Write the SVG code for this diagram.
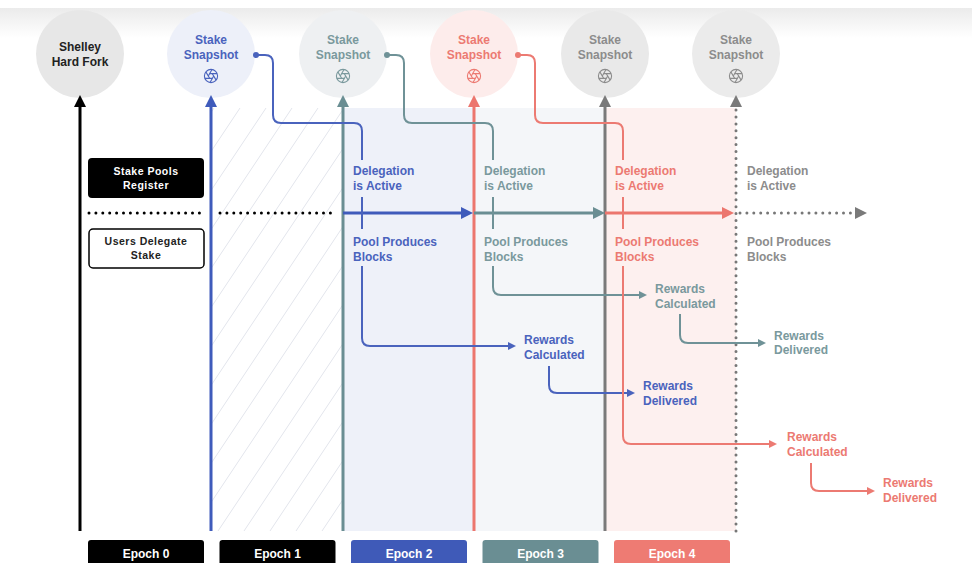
<svg xmlns="http://www.w3.org/2000/svg" width="972" height="563" viewBox="0 0 972 563">
<style>
  text { font-family: "Liberation Sans", Arial, sans-serif; font-weight: bold; font-size: 12px; }
  .c { text-anchor: middle; }
  .small { font-size: 10.5px; letter-spacing: 0.5px; }
  .blue { fill: #4a63bd; }
  .teal { fill: #7a999d; }
  .red { fill: #ec7a72; }
  .gray { fill: #8c8c8c; }
  .dark { fill: #222222; }
  .white { fill: #ffffff; }
  .conn { fill: none; stroke-width: 2; }
  .sb { stroke: #4a63bd; }
  .st { stroke: #6f9297; }
  .sr { stroke: #ec7a72; }
  .main { fill: none; stroke-width: 3; }
  .dots { fill: none; stroke-width: 3; stroke-linecap: round; stroke-dasharray: 0 6.9; }
</style>
<defs>
  <linearGradient id="topshade" x1="0" y1="0" x2="0" y2="1">
    <stop offset="0" stop-color="#ebebeb"/>
    <stop offset="1" stop-color="#ffffff"/>
  </linearGradient>
  <pattern id="hatch" patternUnits="userSpaceOnUse" width="26" height="39">
    <path d="M0,39 L26,0 M-4,6 L4,-6 M22,45 L30,33" stroke="#e2e5ec" stroke-width="1" fill="none"/>
  </pattern>
  <marker id="aK" markerUnits="userSpaceOnUse" viewBox="0 0 12 12" markerWidth="12" markerHeight="12" refX="4" refY="6" orient="auto"><path d="M0,0 L12,6 L0,12 z" fill="#000"/></marker>
  <marker id="aB" markerUnits="userSpaceOnUse" viewBox="0 0 12 12" markerWidth="12" markerHeight="12" refX="4" refY="6" orient="auto"><path d="M0,0 L12,6 L0,12 z" fill="#3f5bbb"/></marker>
  <marker id="aT" markerUnits="userSpaceOnUse" viewBox="0 0 12 12" markerWidth="12" markerHeight="12" refX="4" refY="6" orient="auto"><path d="M0,0 L12,6 L0,12 z" fill="#6a8e93"/></marker>
  <marker id="aR" markerUnits="userSpaceOnUse" viewBox="0 0 12 12" markerWidth="12" markerHeight="12" refX="4" refY="6" orient="auto"><path d="M0,0 L12,6 L0,12 z" fill="#ec766e"/></marker>
  <marker id="aG" markerUnits="userSpaceOnUse" viewBox="0 0 12 12" markerWidth="12" markerHeight="12" refX="4" refY="6" orient="auto"><path d="M0,0 L12,6 L0,12 z" fill="#7a7a7a"/></marker>
  <marker id="sB" markerUnits="userSpaceOnUse" viewBox="0 0 8 8" markerWidth="8" markerHeight="8" refX="2" refY="4" orient="auto"><path d="M0,0 L8,4 L0,8 z" fill="#4a63bd"/></marker>
  <marker id="sT" markerUnits="userSpaceOnUse" viewBox="0 0 8 8" markerWidth="8" markerHeight="8" refX="2" refY="4" orient="auto"><path d="M0,0 L8,4 L0,8 z" fill="#6f9297"/></marker>
  <marker id="sR" markerUnits="userSpaceOnUse" viewBox="0 0 8 8" markerWidth="8" markerHeight="8" refX="2" refY="4" orient="auto"><path d="M0,0 L8,4 L0,8 z" fill="#ec7a72"/></marker>
  <g id="shutter" fill="none" stroke="currentColor" stroke-width="1.1">
    <circle r="6.6"/>
    <path d="M2.7,0 L-1,6.5"/>
    <path d="M2.7,0 L-1,6.5" transform="rotate(60)"/>
    <path d="M2.7,0 L-1,6.5" transform="rotate(120)"/>
    <path d="M2.7,0 L-1,6.5" transform="rotate(180)"/>
    <path d="M2.7,0 L-1,6.5" transform="rotate(240)"/>
    <path d="M2.7,0 L-1,6.5" transform="rotate(300)"/>
  </g>
</defs>

<rect width="972" height="563" fill="#ffffff"/>
<rect x="0" y="8" width="972" height="30" fill="url(#topshade)"/>

<g id="panels">
  <rect x="211" y="108" width="132" height="423" fill="url(#hatch)"/>
  <rect x="343" y="108" width="131" height="423" fill="#eef1f9"/>
  <rect x="474" y="108" width="131" height="423" fill="#f4f6f9"/>
  <rect x="605" y="108" width="131" height="423" fill="#fdf0ef"/>
</g>

<g id="node-shelley">
  <circle cx="80" cy="54" r="44" fill="#e7e7e7"/>
  <text class="c dark" x="80" y="50.5">Shelley</text>
  <text class="c dark" x="80" y="66">Hard Fork</text>
</g>
<g id="node-snapshot-1">
  <circle cx="211" cy="54" r="44" fill="#edf0f9"/>
  <text class="c blue" x="211" y="44">Stake</text>
  <text class="c blue" x="211" y="58.5">Snapshot</text>
  <use href="#shutter" x="211" y="76" color="#4a63bd"/>
</g>
<g id="node-snapshot-2">
  <circle cx="343" cy="54" r="44" fill="#eef0f2"/>
  <text class="c teal" x="343" y="44">Stake</text>
  <text class="c teal" x="343" y="58.5">Snapshot</text>
  <use href="#shutter" x="343" y="76" color="#7a999d"/>
</g>
<g id="node-snapshot-3">
  <circle cx="474" cy="54" r="44" fill="#fdeceb"/>
  <text class="c red" x="474" y="44">Stake</text>
  <text class="c red" x="474" y="58.5">Snapshot</text>
  <use href="#shutter" x="474" y="76" color="#ec7a72"/>
</g>
<g id="node-snapshot-4">
  <circle cx="605" cy="54" r="44" fill="#e9e9e9"/>
  <text class="c gray" x="605" y="44">Stake</text>
  <text class="c gray" x="605" y="58.5">Snapshot</text>
  <use href="#shutter" x="605" y="76" color="#8c8c8c"/>
</g>
<g id="node-snapshot-5">
  <circle cx="736" cy="54" r="44" fill="#ebebeb"/>
  <text class="c gray" x="736" y="44">Stake</text>
  <text class="c gray" x="736" y="58.5">Snapshot</text>
  <use href="#shutter" x="736" y="76" color="#8c8c8c"/>
</g>

<g id="node-stake-pools-register">
  <rect x="88" y="158" width="116" height="40" rx="4" fill="#000"/>
  <text class="c small white" x="146" y="175">Stake Pools</text>
  <text class="c small white" x="146" y="188.5">Register</text>
</g>
<g id="node-users-delegate">
  <rect x="89" y="229" width="115" height="39" rx="4" fill="#fff" stroke="#000" stroke-width="1.5"/>
  <text class="c small dark" x="146" y="245">Users Delegate</text>
  <text class="c small dark" x="146" y="258.5">Stake</text>
</g>

<g id="labels">
  <text class="blue" x="353" y="175">Delegation</text>
  <text class="blue" x="353" y="189.5">is Active</text>
  <text class="blue" x="353" y="246">Pool Produces</text>
  <text class="blue" x="353" y="260.5">Blocks</text>
  <text class="teal" x="484" y="175">Delegation</text>
  <text class="teal" x="484" y="189.5">is Active</text>
  <text class="teal" x="484" y="246">Pool Produces</text>
  <text class="teal" x="484" y="260.5">Blocks</text>
  <text class="red" x="615" y="175">Delegation</text>
  <text class="red" x="615" y="189.5">is Active</text>
  <text class="red" x="615" y="246">Pool Produces</text>
  <text class="red" x="615" y="260.5">Blocks</text>
  <text class="gray" x="747" y="175">Delegation</text>
  <text class="gray" x="747" y="189.5">is Active</text>
  <text class="gray" x="747" y="246">Pool Produces</text>
  <text class="gray" x="747" y="260.5">Blocks</text>

  <text class="blue" x="524" y="344">Rewards</text>
  <text class="blue" x="524" y="358.5">Calculated</text>
  <text class="blue" x="643" y="390">Rewards</text>
  <text class="blue" x="643" y="404.5">Delivered</text>
  <text class="teal" x="655" y="293">Rewards</text>
  <text class="teal" x="655" y="307.5">Calculated</text>
  <text class="teal" x="774" y="339.5">Rewards</text>
  <text class="teal" x="774" y="354">Delivered</text>
  <text class="red" x="787" y="441">Rewards</text>
  <text class="red" x="787" y="455.5">Calculated</text>
  <text class="red" x="883" y="487">Rewards</text>
  <text class="red" x="883" y="501.5">Delivered</text>
</g>

<g id="connectors">
  <path class="main" stroke="#000" d="M80,531 V103" marker-end="url(#aK)"/>
  <path class="main" stroke="#3f5bbb" d="M211,531 V103" marker-end="url(#aB)"/>
  <path class="main" stroke="#6a8e93" d="M343,531 V103" marker-end="url(#aT)"/>
  <path class="main" stroke="#ec766e" d="M474,531 V103" marker-end="url(#aR)"/>
  <path class="main" stroke="#7a7a7a" d="M605,531 V103" marker-end="url(#aG)"/>
  <path class="dots" stroke="#777" d="M736,531 V108"/>
  <path fill="#7a7a7a" d="M730,107 L736,95 L742,107 z"/>

  <path class="dots" stroke="#000" d="M89,213 H205"/>
  <path class="dots" stroke="#000" d="M220,213 H337"/>
  <path class="main" stroke="#3f5bbb" d="M343,213 H465" marker-end="url(#aB)"/>
  <path class="main" stroke="#6a8e93" d="M474,213 H597" marker-end="url(#aT)"/>
  <path class="main" stroke="#ec766e" d="M605,213 H726" marker-end="url(#aR)"/>
  <path class="dots" stroke="#777" d="M740,213 H852"/>
  <path fill="#7a7a7a" d="M855,207 L867,213 L855,219 z"/>

  <circle cx="256" cy="55" r="3" fill="#4a63bd"/>
  <path class="conn sb" d="M256,55 H265 Q273,55 273,63 V115 Q273,123 281,123 H354 Q362,123 362,131 V160"/>
  <path class="conn sb" d="M362,197 V229"/>
  <path class="conn sb" d="M362,266 V338 Q362,346 370,346 H510" marker-end="url(#sB)"/>
  <path class="conn sb" d="M549,366 V385 Q549,393 557,393 H629" marker-end="url(#sB)"/>

  <circle cx="387" cy="55" r="3" fill="#6f9297"/>
  <path class="conn st" d="M387,55 H396 Q404,55 404,63 V115 Q404,123 412,123 H485 Q493,123 493,131 V160"/>
  <path class="conn st" d="M493,197 V229"/>
  <path class="conn st" d="M493,266 V287 Q493,295 501,295 H641" marker-end="url(#sT)"/>
  <path class="conn st" d="M680,314 V335 Q680,343 688,343 H760" marker-end="url(#sT)"/>

  <circle cx="518" cy="55" r="3" fill="#ec7a72"/>
  <path class="conn sr" d="M518,55 H527 Q535,55 535,63 V115 Q535,123 543,123 H615 Q623,123 623,131 V160"/>
  <path class="conn sr" d="M623,197 V229"/>
  <path class="conn sr" d="M623,266 V436 Q623,444 631,444 H771" marker-end="url(#sR)"/>
  <path class="conn sr" d="M811,463 V483 Q811,491 819,491 H869" marker-end="url(#sR)"/>
</g>

<g id="epochs">
  <g id="epoch-0"><rect x="88" y="540" width="116" height="30" rx="3" fill="#000"/><text class="c white" x="146" y="557.5">Epoch 0</text></g>
  <g id="epoch-1"><rect x="219.5" y="540" width="116" height="30" rx="3" fill="#000"/><text class="c white" x="277.5" y="557.5">Epoch 1</text></g>
  <g id="epoch-2"><rect x="351" y="540" width="116" height="30" rx="3" fill="#3f5ab8"/><text class="c white" x="409" y="557.5">Epoch 2</text></g>
  <g id="epoch-3"><rect x="482.5" y="540" width="116" height="30" rx="3" fill="#6a8e93"/><text class="c white" x="540.5" y="557.5">Epoch 3</text></g>
  <g id="epoch-4"><rect x="614" y="540" width="116" height="30" rx="3" fill="#ee7b73"/><text class="c white" x="672" y="557.5">Epoch 4</text></g>
</g>
</svg>
